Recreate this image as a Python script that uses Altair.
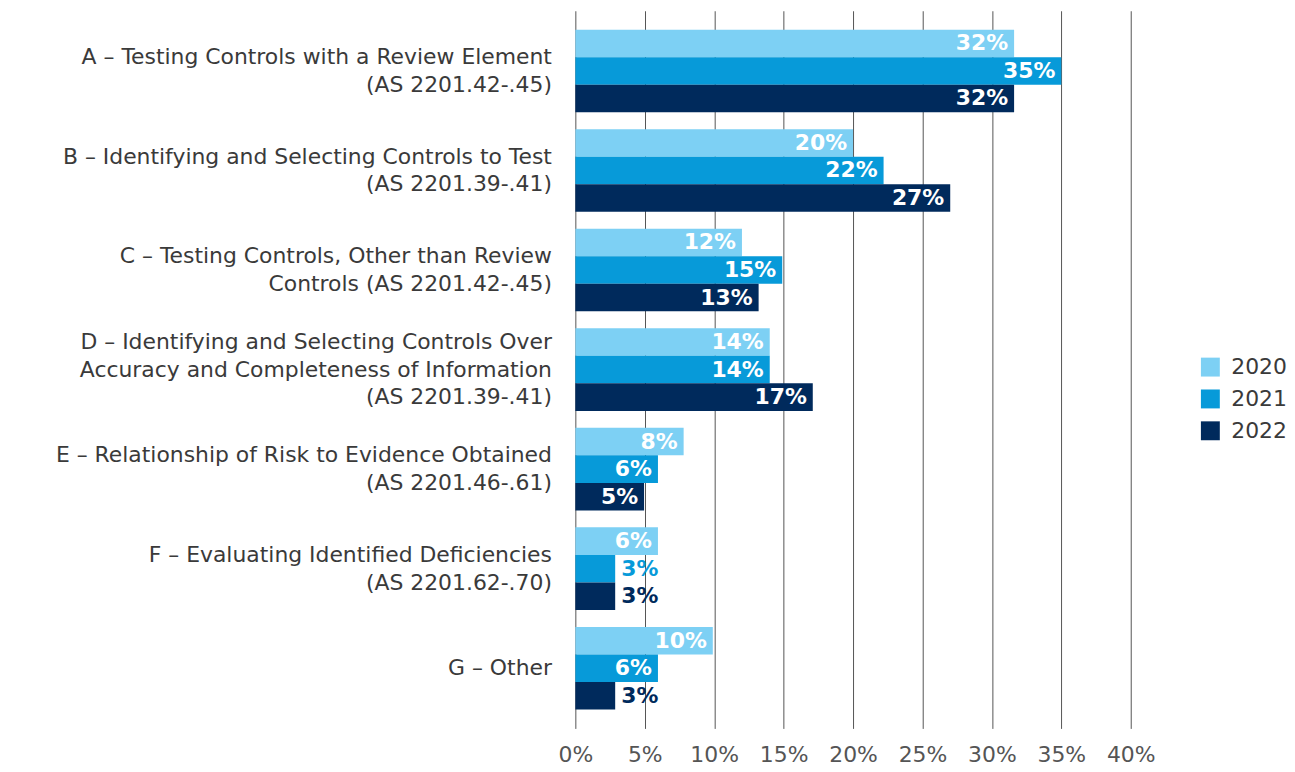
import altair as alt
import pandas as pd

categories = [
    "A – Testing Controls with a Review Element|(AS 2201.42-.45)",
    "B – Identifying and Selecting Controls to Test|(AS 2201.39-.41)",
    "C – Testing Controls, Other than Review|Controls (AS 2201.42-.45)",
    "D – Identifying and Selecting Controls Over|Accuracy and Completeness of Information|(AS 2201.39-.41)",
    "E – Relationship of Risk to Evidence Obtained|(AS 2201.46-.61)",
    "F – Evaluating Identified Deficiencies|(AS 2201.62-.70)",
    "G – Other",
]
years = ["2020", "2021", "2022"]
v2020 = [31.6, 20.0, 12.0, 14.0, 7.8, 5.95, 9.9]
v2021 = [35.0, 22.2, 14.9, 14.0, 5.95, 2.87, 5.95]
v2022 = [31.6, 27.0, 13.2, 17.1, 4.95, 2.87, 2.87]
colors = ["#7dd0f4", "#079ad9", "#002a5c"]

rows = []
for i, c in enumerate(categories):
    for y, vals in zip(years, [v2020, v2021, v2022]):
        rows.append({"cat": c, "year": y, "value": vals[i], "label": f"{round(vals[i])}%"})
df = pd.DataFrame(rows)

FONT = "DejaVu Sans"
FS = 22

y_enc = alt.Y(
    "cat:N",
    sort=categories,
    title=None,
    scale=alt.Scale(paddingInner=0.17, paddingOuter=0.19),
    axis=alt.Axis(
        labelExpr="split(datum.label, '|')",
        labelFontSize=FS,
        labelLineHeight=28,
        labelColor="#3a3a3a",
        labelFont=FONT,
        labelPadding=24,
        labelOffset=alt.ExprRef(expr="-(length(split(datum.label, '|')) - 1) * 14"),
        ticks=False,
        domain=False,
        grid=False,
        minExtent=570,
        maxExtent=570,
        labelLimit=600,
    ),
)
x_enc = alt.X(
    "value:Q",
    title=None,
    scale=alt.Scale(domain=[0, 40], nice=False),
    axis=alt.Axis(
        values=[0, 5, 10, 15, 20, 25, 30, 35, 40],
        labelExpr="datum.value + '%'",
        labelFontSize=FS,
        labelColor="#555555",
        labelFont=FONT,
        labelPadding=16,
        labelFlush=False,
        labelOverlap=False,
        ticks=False,
        domain=False,
        grid=True,
        gridColor="#555555",
        gridWidth=1,
    ),
)
yoff = alt.YOffset("year:N", sort=years, scale=alt.Scale(paddingInner=0, paddingOuter=0))
color = alt.Color(
    "year:N",
    sort=years,
    scale=alt.Scale(domain=years, range=colors),
    legend=alt.Legend(
        title=None,
        orient="none",
        legendX=627,
        legendY=347,
        symbolType="square",
        symbolSize=361,
        symbolStrokeWidth=0,
        labelFontSize=FS,
        labelFont=FONT,
        labelColor="#3a3a3a",
        rowPadding=10,
        labelOffset=10,
        padding=0,
    ),
)

base = alt.Chart(df)
bars = base.mark_bar().encode(y=y_enc, x=x_enc, yOffset=yoff, color=color)
inside = base.transform_filter("datum.value >= 4").mark_text(
    align="right", baseline="middle", dx=-6, fontSize=FS, fontWeight="bold", font=FONT, color="white"
).encode(y=alt.Y("cat:N", sort=categories), x="value:Q", yOffset=yoff, text="label:N")
outside = base.transform_filter("datum.value < 4").mark_text(
    align="left", baseline="middle", dx=6, fontSize=FS, fontWeight="bold", font=FONT
).encode(
    y=alt.Y("cat:N", sort=categories),
    x="value:Q",
    yOffset=yoff,
    text="label:N",
    color=alt.Color("year:N", sort=years, scale=alt.Scale(domain=years, range=colors), legend=None),
)

chart = (
    alt.layer(bars, inside, outside)
    .properties(width=558, height=721, padding={"left": 0, "top": 1, "right": 0, "bottom": 0})
    .configure(font=FONT)
    .configure_view(stroke="transparent", strokeWidth=0)
)
chart.save("out.html", embed_options={"renderer": "svg", "actions": False})
